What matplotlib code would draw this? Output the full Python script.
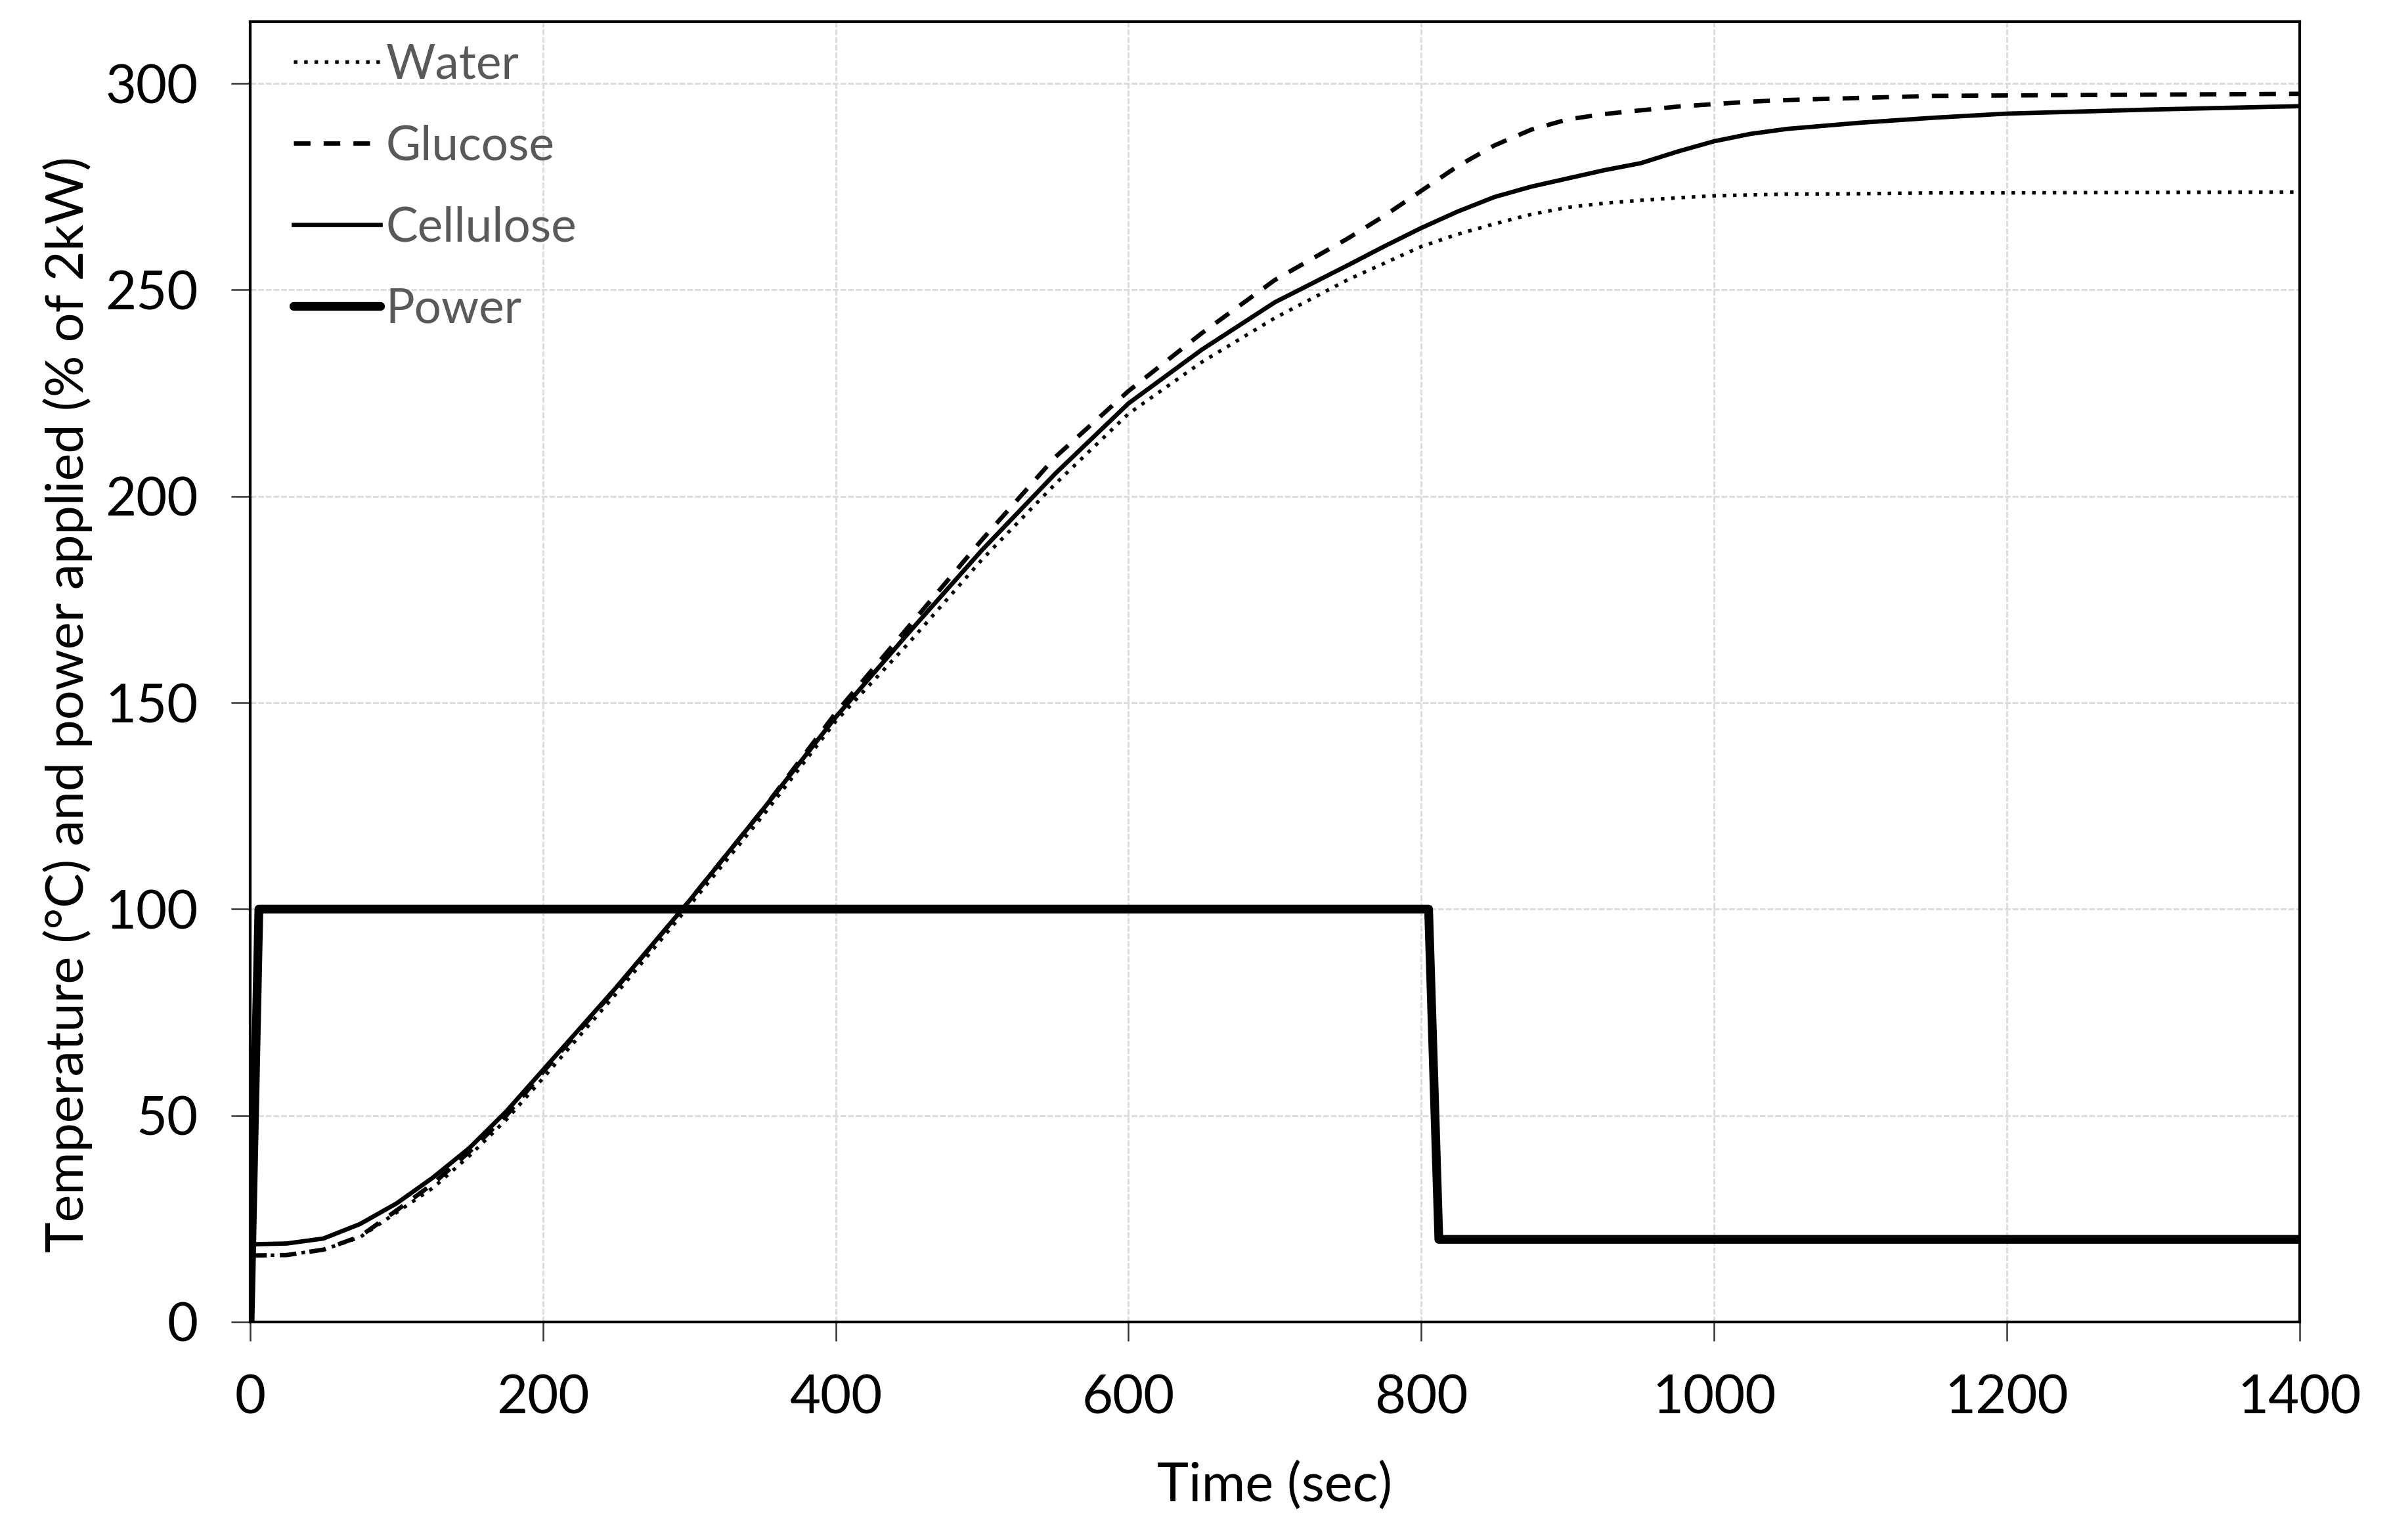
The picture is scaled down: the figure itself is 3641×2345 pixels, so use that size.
import matplotlib.pyplot as plt

plt.rcParams['font.family'] = ['Lato', 'DejaVu Sans']

# time axis (sec) for the temperature traces
time_s = [0, 25, 50, 75, 100, 125, 150, 175, 200, 250, 300, 350, 400, 450, 500, 550,
          600, 650, 700, 750, 775, 800, 825, 850, 875, 900, 925, 950, 975, 1000, 1025,
          1050, 1100, 1150, 1200, 1300, 1400]

water = [16.1, 16.2, 17.5, 20.5, 26.5, 32.5, 40.3, 49.0, 59.0, 79.5, 100.8, 122.5,
         145.5, 164.5, 184.7, 203.0, 220.0, 232.5, 243.2, 252.5, 256.5, 260.5, 263.5,
         266.0, 268.3, 270.0, 271.0, 271.7, 272.3, 272.8, 273.0, 273.2, 273.3, 273.5,
         273.5, 273.6, 273.7]

glucose = [16.1, 16.2, 17.5, 20.7, 27.0, 33.5, 41.3, 50.0, 60.5, 80.8, 102.0, 124.0,
           147.5, 168.5, 189.5, 209.5, 225.5, 239.5, 252.4, 262.5, 268.0, 274.0, 280.0,
           285.0, 288.8, 291.3, 292.6, 293.5, 294.4, 295.0, 295.6, 296.0, 296.5, 297.0,
           297.1, 297.3, 297.5]

cellulose = [18.8, 19.0, 20.2, 23.7, 28.7, 35.0, 42.2, 51.0, 61.0, 81.0, 102.0, 124.0,
             146.5, 167.0, 187.0, 205.5, 222.5, 235.5, 247.0, 256.0, 260.6, 265.0, 269.0,
             272.5, 275.0, 277.0, 279.0, 280.7, 283.5, 286.0, 287.8, 289.0, 290.5, 291.7,
             292.7, 293.7, 294.5]

# power applied (% of 2kW)
power_t = [0, 6, 805, 812, 1400]
power = [0, 100, 100, 20, 20]

fig = plt.figure(figsize=(3641 / 300, 2345 / 300), dpi=300)
ax = fig.add_axes([0.1046, 0.1416, 0.8572, 0.8444])

ax.plot(time_s, water, color='black', lw=1.3, linestyle=(0, (1, 1.9)), label='Water')
ax.plot(time_s, glucose, color='black', lw=1.6, linestyle=(0, (3.8, 3)), label='Glucose')
ax.plot(time_s, cellulose, color='black', lw=1.6, solid_joinstyle='round', label='Cellulose')
ax.plot(power_t, power, color='black', lw=3.2, solid_joinstyle='round',
        solid_capstyle='round', label='Power')

ax.set_xlim(0, 1400)
ax.set_ylim(0, 315)
ax.set_xticks(range(0, 1401, 200))
ax.set_yticks(range(0, 301, 50))

ax.grid(True, color='#dcdcdc', lw=0.7, linestyle=(0, (3, 1)))
ax.set_axisbelow(True)

for sp in ax.spines.values():
    sp.set_color('black')
    sp.set_linewidth(1.0)

ax.tick_params(axis='both', direction='out', length=7, width=0.6, color='#333333',
               labelsize=19.5, labelcolor='black')
ax.tick_params(axis='x', pad=12)
ax.tick_params(axis='y', pad=12)

ax.set_xlabel('Time (sec)', fontsize=19.5, labelpad=14)
ax.set_ylabel('Temperature (\u00b0C) and power applied (% of 2kW)', fontsize=19)
ax.yaxis.set_label_coords(-0.077, 0.475)

leg = ax.legend(loc='upper left', bbox_to_anchor=(0.012, 0.998), frameon=False,
                fontsize=17.5, handlelength=1.8, handletextpad=0.12,
                labelspacing=0.78, borderaxespad=0)
for txt in leg.get_texts():
    txt.set_color('#595959')

fig.savefig('out.png', dpi=300)
